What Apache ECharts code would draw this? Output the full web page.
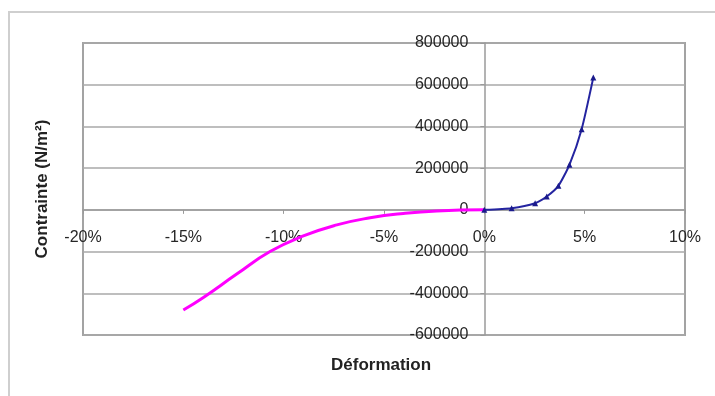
<!DOCTYPE html>
<html>
<head>
<meta charset="utf-8">
<script src="https://cdn.jsdelivr.net/npm/echarts@6/dist/echarts.min.js"></script>
<style>
  html, body { margin: 0; padding: 0; background: #fff; }
  #chart { width: 715px; height: 396px; }
</style>
</head>
<body>
<div id="chart"></div>
<script>
// Strain (fraction) and stress (N/m²) for traction and compression branches
const tractionStrain = [0, 0.0136, 0.0253, 0.0311, 0.0369, 0.0424, 0.0485, 0.0543];
const tractionStress = [0, 8000, 32000, 64000, 115000, 216000, 387000, 634000];

const compressionStrain = [-0.15, -0.14, -0.1234, -0.1068, -0.0902, -0.0735, -0.0569, -0.0404, -0.0237, 0];
const compressionStress = [-480000, -420000, -308000, -200000, -125000, -72000, -38000, -17000, -5000, 0];

const xTicks = { min: -0.2, max: 0.1, step: 0.05 };
const yTicks = { min: -600000, max: 800000, step: 200000 };

const xAxisTitle = 'Déformation';
const yAxisTitle = 'Contrainte (N/m²)';

const pairs = (xs, ys) => xs.map((x, i) => [x, ys[i]]);

const chart = echarts.init(document.getElementById('chart'));
const labelFont = { fontFamily: 'Liberation Sans, Arial, sans-serif', fontSize: 16, color: '#262626' };
const axisGray = { color: '#9a9a9a', width: 1.5 };

chart.setOption({
  animation: false,
  grid: {
    left: 83, right: 30, top: 43, bottom: 61,
    show: true, borderColor: '#a3a3a3', borderWidth: 2, backgroundColor: '#fff'
  },
  xAxis: {
    type: 'value',
    min: xTicks.min, max: xTicks.max, interval: xTicks.step,
    axisLine: { onZero: false, lineStyle: axisGray },
    axisTick: { show: true, length: 4, lineStyle: { color: '#9a9a9a' } },
    splitLine: { show: false },
    axisLabel: Object.assign({
      margin: 20,
      formatter: v => Math.round(v * 100) + '%'
    }, labelFont)
  },
  yAxis: {
    type: 'value',
    min: yTicks.min, max: yTicks.max, interval: yTicks.step,
    axisLine: { onZero: false, lineStyle: axisGray },
    axisTick: { show: true, length: 4, lineStyle: { color: '#9a9a9a' } },
    splitLine: { show: true, lineStyle: { color: '#a8a8a8', width: 1.5 } },
    axisLabel: Object.assign({ margin: 16, formatter: v => String(v) }, labelFont)
  },
  series: [
    {
      type: 'line',
      data: pairs(compressionStrain, compressionStress),
      smooth: 0.5,
      showSymbol: false,
      lineStyle: { color: '#ff00ff', width: 3 },
      z: 3
    },
    {
      type: 'line',
      data: pairs(tractionStrain, tractionStress),
      smooth: 0.2,
      symbol: 'triangle',
      symbolSize: 6,
      itemStyle: { color: '#1a1a8c' },
      lineStyle: { color: '#2424a0', width: 2 },
      z: 4
    }
  ],
  graphic: [
    {
      type: 'rect',
      shape: { x: 9, y: 12, width: 720, height: 400 },
      style: { fill: 'none', stroke: '#cfcfcf', lineWidth: 2 },
      z: -10
    },
    {
      type: 'text',
      left: 331, top: 357,
      style: {
        text: xAxisTitle,
        font: 'bold 17px "Liberation Sans", Arial, sans-serif',
        fill: '#222'
      }
    },
    {
      type: 'text',
      x: 42, y: 189,
      rotation: Math.PI / 2,
      style: {
        text: yAxisTitle,
        font: 'bold 17px "Liberation Sans", Arial, sans-serif',
        fill: '#222',
        align: 'center',
        verticalAlign: 'middle'
      }
    }
  ]
});

// Move both axes (line, ticks and labels) so they cross at the origin
const origin = chart.convertToPixel({ gridIndex: 0 }, [0, 0]);
const rect = chart.getModel().getComponent('grid', 0).coordinateSystem.getRect();
chart.setOption({
  xAxis: { offset: -(rect.y + rect.height - origin[1]) },
  yAxis: { offset: -(origin[0] - rect.x) }
});
</script>
</body>
</html>
